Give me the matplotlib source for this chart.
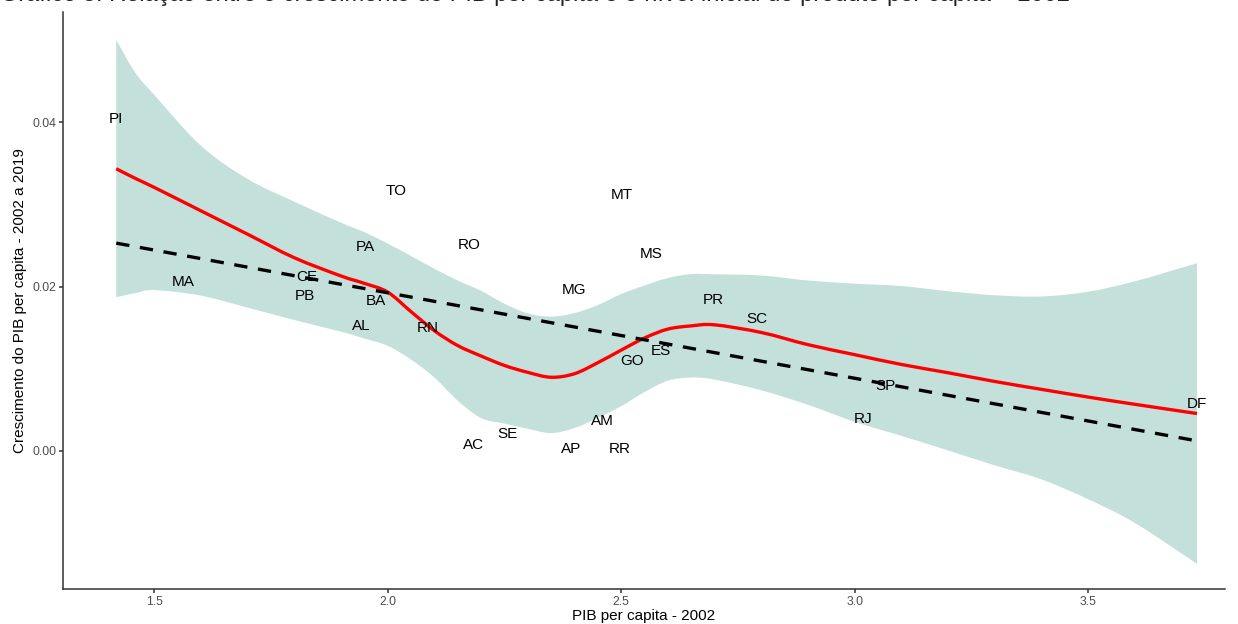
import numpy as np
import matplotlib
matplotlib.use("Agg")
import matplotlib.pyplot as plt
from matplotlib.path import Path
from matplotlib.patches import PathPatch

# ---- data ----
estados = ["PI", "MA", "CE", "PB", "PA", "TO", "BA", "AL", "RN", "RO", "AC", "SE", "MG",
           "AP", "AM", "RR", "MT", "MS", "GO", "ES", "PR", "SC", "SP", "RJ", "DF"]
pib_2002 = [1.419, 1.562, 1.828, 1.823, 1.952, 2.018, 1.975, 1.943, 2.087, 2.175, 2.185, 2.256, 2.399,
            2.393, 2.461, 2.498, 2.502, 2.564, 2.524, 2.586, 2.697, 2.791, 3.067, 3.018, 3.733]
crescimento = [0.0404, 0.0206, 0.0212, 0.0188, 0.0248, 0.0316, 0.0182, 0.0152, 0.0149, 0.0250, 0.0007,
               0.0020, 0.0196, 0.0002, 0.0037, 0.0002, 0.0311, 0.0240, 0.0110, 0.0121, 0.0183, 0.0160,
               0.0079, 0.0039, 0.0057]

# loess smooth (red) and its 95% band
curva_x = [1.419, 1.46, 1.5, 1.6, 1.7, 1.8, 1.9, 1.95, 2.0, 2.05, 2.1, 2.15, 2.2, 2.25, 2.3, 2.35, 2.4,
           2.45, 2.5, 2.55, 2.6, 2.65, 2.7, 2.8, 2.9, 3.0, 3.1, 3.2, 3.3, 3.4, 3.5, 3.6, 3.733]
loess_fit = [0.03433, 0.03315, 0.03207, 0.02922, 0.02637, 0.02351, 0.02129, 0.02039, 0.01933, 0.01695,
             0.01463, 0.01282, 0.01155, 0.01040, 0.00956, 0.00896, 0.00939, 0.01073, 0.01226, 0.01374,
             0.01482, 0.01521, 0.01534, 0.01441, 0.01293, 0.01171, 0.01052, 0.00951, 0.00845, 0.00749,
             0.00655, 0.00567, 0.00455]
loess_sup = [0.05000, 0.04600, 0.04334, 0.03715, 0.03309, 0.03033, 0.02777, 0.02662, 0.02523, 0.02372,
             0.02217, 0.02074, 0.01948, 0.01791, 0.01673, 0.01634, 0.01677, 0.01774, 0.01909, 0.02012,
             0.02104, 0.02151, 0.02149, 0.02134, 0.02073, 0.02035, 0.02006, 0.01943, 0.01894, 0.01879,
             0.01937, 0.02063, 0.02284]
loess_inf = [0.01870, 0.01920, 0.01957, 0.01889, 0.01744, 0.01593, 0.01451, 0.01368, 0.01280, 0.01112,
             0.00894, 0.00612, 0.00400, 0.00332, 0.00270, 0.00217, 0.00278, 0.00402, 0.00544, 0.00715,
             0.00854, 0.00893, 0.00868, 0.00738, 0.00561, 0.00354, 0.00183, 0.00006, -0.00176, -0.00346,
             -0.00588, -0.00876, -0.01374]

# linear fit (dashed), ends
reta_x = [1.419, 3.733]
reta_y = [0.02528, 0.00122]


def smooth_path_vertices(xs, ys):
    """Catmull-Rom spline through the read points, as cubic Bezier path pieces."""
    P = np.column_stack([xs, ys]).astype(float)
    n = len(P)
    verts = [P[0]]
    codes = [Path.MOVETO]
    for i in range(n - 1):
        p0 = P[i - 1] if i > 0 else P[i]
        p1 = P[i]
        p2 = P[i + 1]
        p3 = P[i + 2] if i + 2 < n else P[i + 1]
        c1 = p1 + (p2 - p0) / 6.0
        c2 = p2 - (p3 - p1) / 6.0
        verts += [c1, c2, p2]
        codes += [Path.CURVE4] * 3
    return verts, codes


# ---- figure ----
plt.rcParams["font.family"] = ["Liberation Sans", "DejaVu Sans"]
fig = plt.figure(figsize=(12.38, 6.24), dpi=100)
ax = fig.add_axes([63 / 1238, 1 - 589 / 624, (1225 - 63) / 1238, (589 - 12) / 624])

# ribbon: upper edge forward, lower edge backward
vu, cu = smooth_path_vertices(curva_x, loess_sup)
vl, cl = smooth_path_vertices(curva_x[::-1], loess_inf[::-1])
cl[0] = Path.LINETO
band = Path(vu + vl + [vu[0]], cu + cl + [Path.CLOSEPOLY])
ax.add_patch(PathPatch(band, facecolor="#c4e0db", edgecolor="none", lw=0, zorder=1))

vf, cf = smooth_path_vertices(curva_x, loess_fit)
ax.add_patch(PathPatch(Path(vf, cf), facecolor="none", edgecolor="#ff0000", lw=2.4, zorder=2,
                       capstyle="butt"))

ax.plot(reta_x, reta_y, color="black", lw=2.4, ls=(0, (4, 3.2)), zorder=4)

for lab, xv, yv in zip(estados, pib_2002, crescimento):
    ax.text(xv, yv, lab, ha="center", va="center", fontsize=11, color="black", zorder=3)

ax.set_xlim(1.305, 3.793)
ax.set_ylim(-0.0168, 0.0534)
ax.set_xticks([1.5, 2.0, 2.5, 3.0, 3.5])
ax.set_xticklabels(["1.5", "2.0", "2.5", "3.0", "3.5"])
ax.set_yticks([0.00, 0.02, 0.04])
ax.set_yticklabels(["0.00", "0.02", "0.04"])
for sp in ["top", "right"]:
    ax.spines[sp].set_visible(False)
for sp in ["left", "bottom"]:
    ax.spines[sp].set_color("#333333")
    ax.spines[sp].set_linewidth(1.1)
ax.tick_params(axis="both", colors="#333333", labelcolor="#4d4d4d", labelsize=8.8,
               length=2.75, width=1.1, pad=2)
ax.set_xlabel("PIB per capita - 2002", fontsize=11, labelpad=1)
ax.set_ylabel("Crescimento do PIB per capita - 2002 a 2019", fontsize=11, labelpad=4)

fig.text(0.0, 1 - 1.5 / 624,
         "Gráfico 5: Relação entre o crescimento do PIB per capita e o nível inicial do produto per capita – 2002",
         fontsize=17, ha="left", va="baseline", color="#222222")

fig.savefig("out.png", dpi=100)
